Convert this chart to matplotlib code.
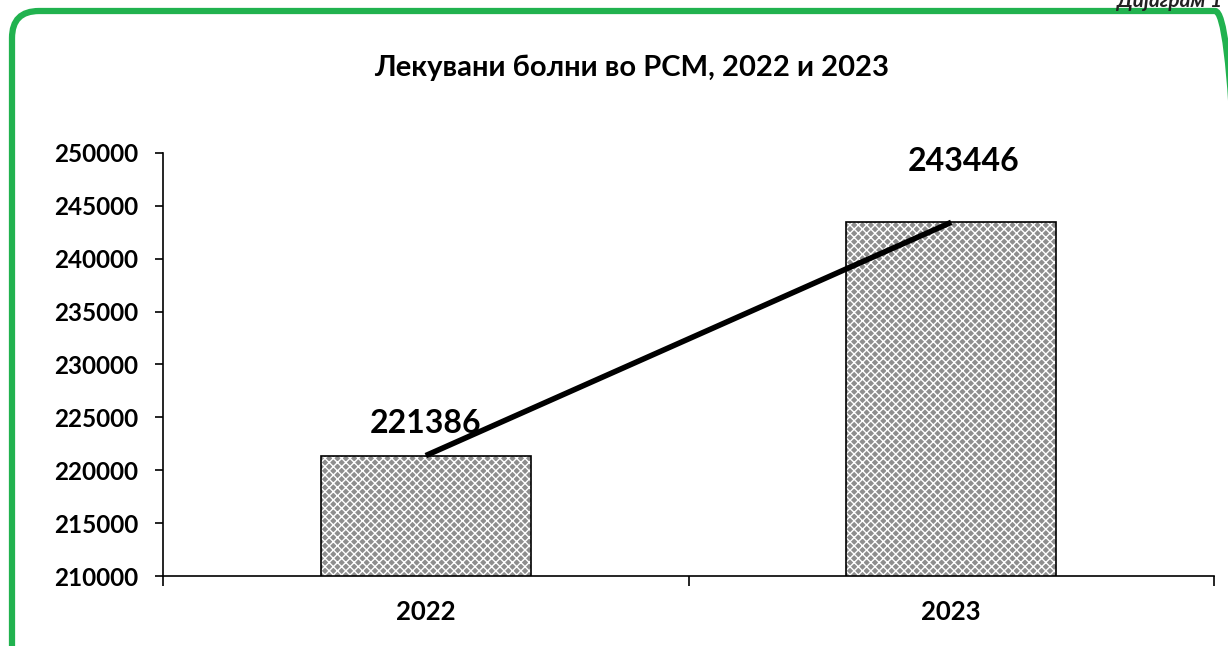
import matplotlib
matplotlib.use("Agg")
import matplotlib.pyplot as plt
from matplotlib.patches import FancyBboxPatch

years = ["2022", "2023"]
patients = [221386, 243446]
yticks = [210000, 215000, 220000, 225000, 230000, 235000, 240000, 245000, 250000]
title = "Лекувани болни во РСМ, 2022 и 2023"
corner_label = "Дијаграм 1"

plt.rcParams['font.family'] = ['Lato', 'DejaVu Sans']

W, H = 1228, 646
fig = plt.figure(figsize=(W / 100, H / 100), dpi=100)

# green rounded frame (in inches)
frame = FancyBboxPatch((0.12, -0.5), 12.3, 6.35 + 0.5,
                       boxstyle="round,pad=0,rounding_size=0.27",
                       transform=fig.dpi_scale_trans, fill=False,
                       edgecolor="#21b24f", linewidth=4.5)
fig.patches.append(frame)

fig.text(1222 / W, 1 - 1 / H, corner_label, ha="right", va="center",
         fontsize=15, fontweight="bold", fontstyle="italic", color="#222222")

ax = fig.add_axes([163 / W, 1 - 576 / H, (1214 - 163) / W, (576 - 153) / H])

x = list(range(len(years)))
ax.bar(x, patients, width=0.4, color="#8e8e8e", edgecolor="white",
       hatch="xxxx", linewidth=0, zorder=2)
ax.bar(x, patients, width=0.4, fill=False, edgecolor="black", linewidth=1.2, zorder=3)
ax.plot(x, patients, color="black", linewidth=4, zorder=4, solid_capstyle="butt")

label_offsets = [(0, 13), (9, 33)]  # points from bar top
for xi, v, off in zip(x, patients, label_offsets):
    ax.annotate(str(v), (xi, v), xytext=off, textcoords="offset points",
                ha="center", va="bottom", fontsize=23, fontweight="bold", zorder=5)

ax.set_xlim(-0.5, 1.5)
ax.set_ylim(210000, 250000)
ax.set_yticks(yticks)
ax.set_yticklabels([str(t) for t in yticks], fontsize=17.5, fontweight="bold")
ax.set_xticks(x)
ax.set_xticklabels(years, fontsize=18.5, fontweight="bold")
ax.set_xticks([-0.5, 0.5, 1.5], minor=True)
ax.tick_params(axis="x", which="major", length=0, pad=17)
ax.tick_params(axis="x", which="minor", length=7, width=1.2, direction="out")
ax.tick_params(axis="y", length=6, width=1.2, direction="out", pad=12)
for s in ["top", "right"]:
    ax.spines[s].set_visible(False)
for s in ["left", "bottom"]:
    ax.spines[s].set_linewidth(1.2)

fig.text(632 / W, 1 - 68 / H, title, ha="center", va="center",
         fontsize=21, fontweight="bold")

fig.savefig("out.png", dpi=100)
